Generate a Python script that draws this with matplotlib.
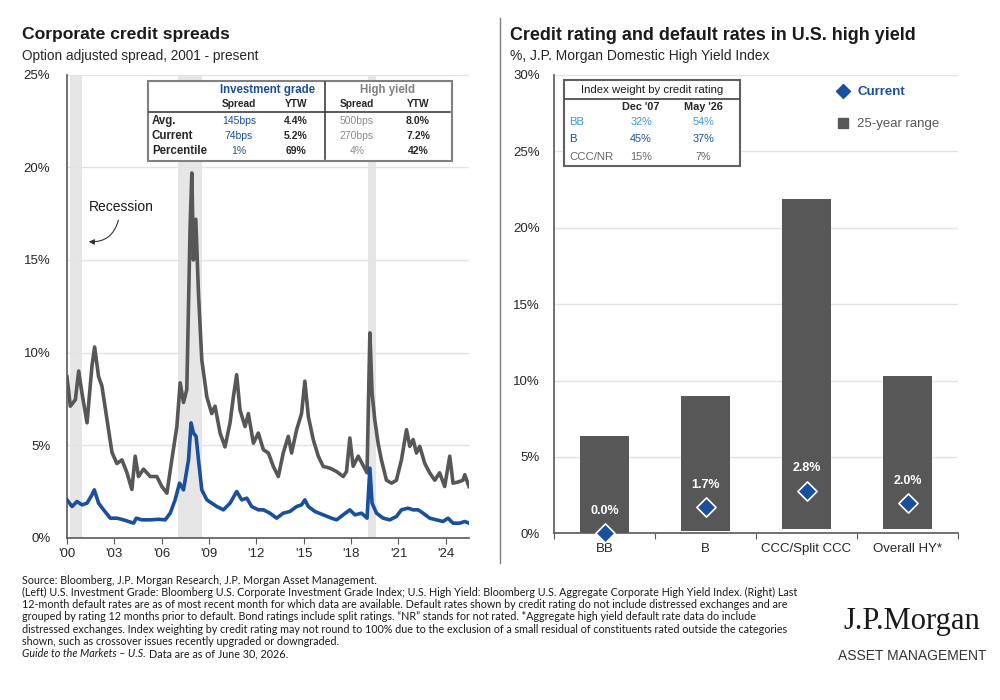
import numpy as np
import matplotlib
matplotlib.use("Agg")
import matplotlib.pyplot as plt
from matplotlib.patches import Rectangle
from matplotlib.lines import Line2D

plt.rcParams['font.family'] = ['Liberation Sans', 'DejaVu Sans']

# ---- left panel data (decimal years) ----
hy_years = [2000.00, 2000.21, 2000.53, 2000.74, 2000.95, 2001.27, 2001.58, 2001.75, 2002.00, 2002.21,
            2002.53, 2002.85, 2003.16, 2003.48, 2003.80, 2004.11, 2004.32, 2004.53, 2004.85, 2005.27,
            2005.69, 2006.01, 2006.33, 2006.64, 2006.96, 2007.17, 2007.38, 2007.59, 2007.80, 2007.91,
            2008.01, 2008.16, 2008.33, 2008.54, 2008.86, 2009.17, 2009.38, 2009.70, 2010.01, 2010.33,
            2010.54, 2010.75, 2010.96, 2011.28, 2011.49, 2011.81, 2012.12, 2012.44, 2012.76, 2013.07,
            2013.39, 2013.70, 2014.02, 2014.23, 2014.55, 2014.86, 2015.07, 2015.29, 2015.60, 2015.92,
            2016.23, 2016.66, 2017.08, 2017.50, 2017.71, 2017.92, 2018.13, 2018.45, 2018.76, 2019.01,
            2019.19, 2019.33, 2019.50, 2019.71, 2019.92, 2020.24, 2020.56, 2020.87, 2021.19, 2021.51,
            2021.72, 2021.93, 2022.14, 2022.35, 2022.67, 2022.98, 2023.30, 2023.61, 2023.93, 2024.25,
            2024.46, 2024.77, 2025.09, 2025.20, 2025.47]
hy_spread = [8.7, 7.1, 7.45, 9.0, 7.8, 6.2, 9.26, 10.3, 8.7, 8.2,
             6.4, 4.6, 4.0, 4.2, 3.5, 2.6, 4.4, 3.3, 3.7, 3.3,
             3.3, 2.76, 2.4, 4.2, 6.0, 8.36, 7.3, 8.0, 16.8, 19.7,
             15.0, 17.2, 13.2, 9.6, 7.6, 6.7, 7.1, 5.65, 4.9, 6.2,
             7.6, 8.8, 6.9, 6.0, 6.7, 5.1, 5.65, 4.75, 4.57, 3.85,
             3.3, 4.57, 5.47, 4.57, 5.83, 6.7, 8.45, 6.55, 5.3, 4.4,
             3.85, 3.75, 3.57, 3.3, 3.57, 5.38, 3.85, 4.4, 3.9, 3.5,
             11.06, 7.8, 6.37, 5.1, 4.2, 3.1, 2.94, 3.1, 4.2, 5.83,
             4.93, 5.3, 4.57, 4.93, 4.0, 3.5, 3.1, 3.5, 2.76, 4.4,
             2.94, 3.0, 3.1, 3.4, 2.76]

ig_years = [2000.00, 2000.32, 2000.63, 2000.95, 2001.27, 2001.58, 2001.73, 2002.00, 2002.32, 2002.74,
            2003.16, 2003.58, 2003.90, 2004.22, 2004.39, 2004.74, 2005.27, 2005.80, 2006.22, 2006.54,
            2006.85, 2007.13, 2007.38, 2007.70, 2007.86, 2008.01, 2008.18, 2008.33, 2008.54, 2008.86,
            2009.17, 2009.49, 2009.91, 2010.33, 2010.75, 2011.07, 2011.39, 2011.70, 2012.12, 2012.44,
            2012.86, 2013.28, 2013.70, 2014.12, 2014.55, 2014.86, 2015.07, 2015.29, 2015.71, 2016.23,
            2016.76, 2017.08, 2017.50, 2017.92, 2018.24, 2018.66, 2019.01, 2019.19, 2019.33, 2019.61,
            2020.03, 2020.45, 2020.87, 2021.19, 2021.61, 2021.93, 2022.25, 2022.56, 2022.98, 2023.40,
            2023.82, 2024.14, 2024.46, 2024.88, 2025.20, 2025.47]
ig_spread = [2.04, 1.68, 1.95, 1.77, 1.86, 2.31, 2.58, 1.86, 1.5, 1.05,
             1.05, 0.96, 0.87, 0.78, 1.05, 0.96, 0.96, 0.99, 0.96, 1.32,
             2.04, 2.94, 2.58, 4.2, 6.2, 5.65, 5.47, 4.2, 2.58, 2.04,
             1.86, 1.68, 1.5, 1.86, 2.49, 2.04, 2.13, 1.68, 1.5, 1.5,
             1.32, 1.05, 1.32, 1.41, 1.68, 1.77, 2.04, 1.68, 1.41, 1.23,
             1.05, 0.96, 1.23, 1.5, 1.23, 1.32, 1.05, 3.75, 1.86, 1.32,
             1.05, 0.96, 1.14, 1.5, 1.59, 1.5, 1.5, 1.32, 1.05, 0.96,
             0.87, 1.05, 0.78, 0.78, 0.87, 0.78]

recessions = [(2000.21, 2000.95), (2007.06, 2008.58), (2019.08, 2019.55)]
year_ticks = [2000, 2003, 2006, 2009, 2012, 2015, 2018, 2021, 2024]
year_labels = ["'00", "'03", "'06", "'09", "'12", "'15", "'18", "'21", "'24"]

# ---- right panel data ----
ratings = ['BB', 'B', 'CCC/Split CCC', 'Overall HY*']
range_low = [0.0, 0.17, 0.3, 0.28]
range_high = [6.36, 8.98, 21.85, 10.28]
current = [0.0, 1.7, 2.8, 2.0]

weight_rows = ['BB', 'B', 'CCC/NR']
weight_dec07 = ['32%', '45%', '15%']
weight_may26 = ['54%', '37%', '7%']

ig_table = {'Avg.': ('145bps', '4.4%', '500bps', '8.0%'),
            'Current': ('74bps', '5.2%', '270bps', '7.2%'),
            'Percentile': ('1%', '69%', '4%', '42%')}

GRAY = '#575757'
BLUE = '#1a4f9c'
LIGHTBLUE = '#3d97dc'
GRID = '#e3e3e3'
TXT = '#262626'


def px(x, y):
    return x / 1000, 1 - y / 700


fig = plt.figure(figsize=(10, 7), dpi=100)

# ---------------- left panel ----------------
ax1 = fig.add_axes([0.067, 0.232, 0.402, 0.661])
for a, b in recessions:
    ax1.axvspan(a, b, color='#e6e6e6', lw=0, zorder=0)
ax1.plot(hy_years, hy_spread, color=GRAY, lw=2.6, zorder=3)
ax1.plot(ig_years, ig_spread, color=BLUE, lw=2.6, zorder=3)
ax1.set_xlim(2000, 2025.47)
ax1.set_ylim(0, 25)
ax1.set_yticks(range(0, 26, 5))
ax1.set_yticklabels([f'{v}%' for v in range(0, 26, 5)])
ax1.set_xticks(year_ticks)
ax1.set_xticklabels(year_labels)
ax1.grid(axis='y', color=GRID, lw=1)
ax1.set_axisbelow(True)
for s in ['top', 'right']:
    ax1.spines[s].set_visible(False)
for s in ['left', 'bottom']:
    ax1.spines[s].set_color('#595959')
    ax1.spines[s].set_linewidth(1.2)
ax1.tick_params(axis='y', length=0, labelsize=9.5, colors=TXT, pad=12)
ax1.tick_params(axis='x', length=4, direction='out', labelsize=9.5, colors=TXT, color='#595959')

ax1.annotate('', xy=(2001.2, 16.0), xytext=(2003.3, 17.3),
             arrowprops=dict(arrowstyle='-|>', color='#333333', lw=0.8,
                             connectionstyle='arc3,rad=-0.45', mutation_scale=8))
ax1.text(2003.45, 17.85, 'Recession', fontsize=10, color='#1a1a1a', ha='center', va='center')

# ---------------- right panel ----------------
ax2 = fig.add_axes([0.554, 0.238, 0.404, 0.655])
xpos = np.arange(len(ratings))
heights = [h - l for h, l in zip(range_high, range_low)]
ax2.bar(xpos, heights, bottom=range_low, width=0.49, color=GRAY, zorder=2)
ax2.scatter(xpos, current, marker='D', s=95, color=BLUE, edgecolor='white', lw=1.2,
            zorder=4, clip_on=False)
for x, v in zip(xpos, current):
    ax2.annotate(f'{v:.1f}%', (x, v), textcoords='offset points', xytext=(0, 16),
                 ha='center', va='center', color='white', fontsize=9, fontweight='bold', zorder=5)
ax2.set_xlim(-0.5, 3.5)
ax2.set_ylim(0, 30)
ax2.set_yticks(range(0, 31, 5))
ax2.set_yticklabels([f'{v}%' for v in range(0, 31, 5)])
ax2.set_xticks(np.arange(-0.5, 4, 1))
ax2.set_xticklabels([])
ax2.set_xticks(xpos, minor=True)
ax2.set_xticklabels(ratings, minor=True)
ax2.tick_params(axis='x', which='major', length=4, color='#595959')
ax2.tick_params(axis='x', which='minor', length=0, labelsize=9.5, colors=TXT, pad=7)
ax2.tick_params(axis='y', length=0, labelsize=9.5, colors=TXT, pad=10)
ax2.grid(axis='y', color=GRID, lw=1)
ax2.set_axisbelow(True)
for s in ['top', 'right']:
    ax2.spines[s].set_visible(False)
for s in ['left', 'bottom']:
    ax2.spines[s].set_color('#595959')
    ax2.spines[s].set_linewidth(1.2)

# legend
fig.add_artist(Line2D([843 / 1000], [1 - 91 / 700], marker='D', markersize=7, color=BLUE, lw=0))
fig.text(*px(857, 92), 'Current', fontsize=9.5, color=BLUE, fontweight='bold', va='center')
fig.add_artist(Line2D([843 / 1000], [1 - 123 / 700], marker='s', markersize=7.5, color=GRAY, lw=0))
fig.text(*px(857, 124), '25-year range', fontsize=9.5, color=GRAY, va='center')

# ---------------- titles ----------------
fig.text(*px(22, 35), 'Corporate credit spreads', fontsize=12.6, fontweight='bold', color='#1a1a1a', va='center')
fig.text(*px(22, 56), 'Option adjusted spread, 2001 - present', fontsize=9.8, color=TXT, va='center')
fig.text(*px(510, 35), 'Credit rating and default rates in U.S. high yield', fontsize=12.9,
         fontweight='bold', color='#1a1a1a', va='center')
fig.text(*px(510, 56), '%, J.P. Morgan Domestic High Yield Index', fontsize=10, color=TXT, va='center')

fig.add_artist(Line2D([0.5, 0.5], [1 - 18 / 700, 1 - 563 / 700], color='#7f7f7f', lw=1))

# ---------------- left table ----------------
fig.add_artist(Rectangle(px(148, 161), 304 / 1000, 80 / 700, transform=fig.transFigure,
                         facecolor='white', edgecolor='#808080', lw=1.5, zorder=2))
fig.add_artist(Line2D([325 / 1000, 325 / 1000], [1 - 82 / 700, 1 - 159 / 700], color='#404040', lw=1.2, zorder=3))
fig.add_artist(Line2D([149 / 1000, 450 / 1000], [1 - 112 / 700, 1 - 112 / 700], color='#404040', lw=1.2, zorder=3))
fig.text(*px(267, 90), 'Investment grade', fontsize=8.3, color=BLUE, fontweight='bold', ha='center', va='center', zorder=4)
fig.text(*px(387, 90), 'High yield', fontsize=8.3, color='#808080', fontweight='bold', ha='center', va='center', zorder=4)
for x, lab in [(239, 'Spread'), (296, 'YTW'), (357, 'Spread'), (418, 'YTW')]:
    fig.text(*px(x, 104), lab, fontsize=7.3, color=TXT, fontweight='bold', ha='center', va='center', zorder=4)
for i, (row, vals) in enumerate(ig_table.items()):
    y = 121 + i * 15
    fig.text(*px(152, y), row, fontsize=8.3, color=TXT, fontweight='bold', va='center', zorder=4)
    cols = [(239, BLUE, 'normal'), (296, TXT, 'bold'), (357, '#8c8c8c', 'normal'), (418, TXT, 'bold')]
    for (x, c, w), v in zip(cols, vals):
        fig.text(*px(x, y), v, fontsize=7.5, color=c, fontweight=w, ha='center', va='center', zorder=4)

# ---------------- right table ----------------
fig.add_artist(Rectangle(px(564, 166), 176 / 1000, 86 / 700, transform=fig.transFigure,
                         facecolor='white', edgecolor='#606060', lw=1.5, zorder=2))
fig.add_artist(Line2D([565 / 1000, 739 / 1000], [1 - 99 / 700, 1 - 99 / 700], color='#404040', lw=1.2, zorder=3))
fig.text(*px(652, 90), 'Index weight by credit rating', fontsize=8.2, color='#1a1a1a', ha='center', va='center', zorder=4)
fig.text(*px(641, 107), "Dec '07", fontsize=7.8, color=TXT, fontweight='bold', ha='center', va='center', zorder=4)
fig.text(*px(703, 107), "May '26", fontsize=7.8, color=TXT, fontweight='bold', ha='center', va='center', zorder=4)
row_colors = [LIGHTBLUE, BLUE, '#666666']
for i, (row, a, b) in enumerate(zip(weight_rows, weight_dec07, weight_may26)):
    y = [122, 139, 157][i]
    c = row_colors[i]
    fig.text(*px(569, y), row, fontsize=8.2, color=c, va='center', zorder=4)
    fig.text(*px(641, y), a, fontsize=7.8, color=c, ha='center', va='center', zorder=4)
    fig.text(*px(703, y), b, fontsize=7.8, color=c, ha='center', va='center', zorder=4)

# ---------------- footnotes ----------------
notes = [
    'Source: Bloomberg, J.P. Morgan Research, J.P. Morgan Asset Management.',
    '(Left) U.S. Investment Grade: Bloomberg U.S. Corporate Investment Grade Index; U.S. High Yield: Bloomberg U.S. Aggregate Corporate High Yield Index. (Right) Last',
    '12-month default rates are as of most recent month for which data are available. Default rates shown by credit rating do not include distressed exchanges and are',
    'grouped by rating 12 months prior to default. Bond ratings include split ratings. \u201cNR\u201d stands for not rated. *Aggregate high yield default rate data do include',
    'distressed exchanges. Index weighting by credit rating may not round to 100% due to the exclusion of a small residual of constituents rated outside the categories',
    'shown, such as crossover issues recently upgraded or downgraded.',
]
FN = 7.75
for i, line in enumerate(notes):
    fig.text(*px(22, 580 + i * 12.3), line, fontsize=FN, family='Lato', color='#1a1a1a', va='center')
yl = 580 + 6 * 12.3
t = fig.text(*px(22, yl), 'Guide to the Markets \u2013 U.S.', fontsize=FN, family='Lato',
             style='italic', color='#1a1a1a', va='center')
fig.canvas.draw()
bb = t.get_window_extent()
fig.text(bb.x1 / 1000 + 0.003, 1 - yl / 700, 'Data are as of June 30, 2026.', fontsize=FN,
         family='Lato', color='#1a1a1a', va='center')

# logo
fig.text(*px(912, 622), 'J.P.Morgan', fontsize=22, family='Liberation Serif', color='#1a1a1a',
         ha='center', va='center')
fig.text(*px(912, 656), 'ASSET MANAGEMENT', fontsize=10, color='#333333', ha='center', va='center')

fig.savefig('out.png', dpi=100)
